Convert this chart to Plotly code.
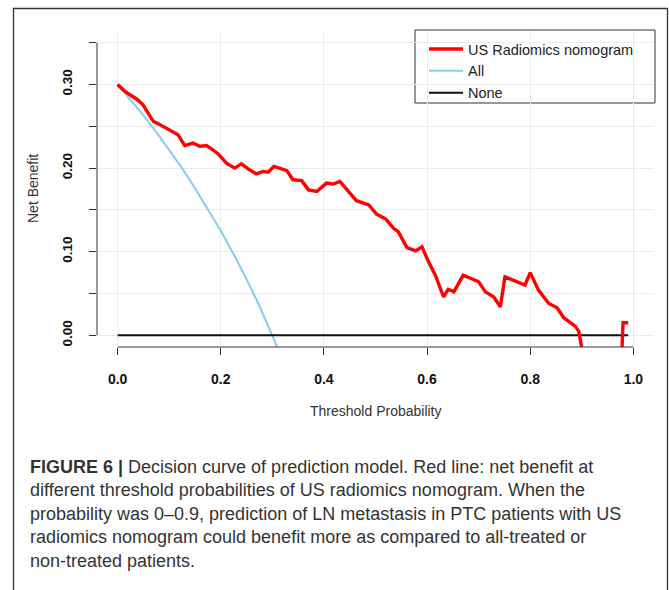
import plotly.graph_objects as go

# ---------------- data ----------------
model_x = [0.000, 0.012, 0.023, 0.036, 0.049, 0.060, 0.069, 0.082, 0.101, 0.117,
           0.130, 0.146, 0.159, 0.172, 0.182, 0.195, 0.211, 0.227, 0.240, 0.253,
           0.269, 0.282, 0.292, 0.303, 0.318, 0.328, 0.340, 0.357, 0.370, 0.386,
           0.405, 0.418, 0.431, 0.444, 0.463, 0.487, 0.502, 0.520, 0.535, 0.544,
           0.561, 0.578, 0.590, 0.602, 0.616, 0.632, 0.641, 0.652, 0.670, 0.700,
           0.713, 0.729, 0.742, 0.751, 0.790, 0.800, 0.816, 0.836, 0.852, 0.865,
           0.887, 0.894, 0.900, 0.905, 0.975, 0.980, 0.990]
model_y = [0.300, 0.293, 0.288, 0.283, 0.276, 0.265, 0.256, 0.252, 0.246, 0.240,
           0.227, 0.230, 0.226, 0.227, 0.223, 0.217, 0.206, 0.200, 0.205, 0.199,
           0.193, 0.196, 0.195, 0.202, 0.199, 0.197, 0.186, 0.185, 0.174, 0.172,
           0.182, 0.181, 0.184, 0.174, 0.161, 0.156, 0.145, 0.139, 0.128, 0.124,
           0.105, 0.101, 0.106, 0.089, 0.072, 0.046, 0.055, 0.052, 0.072, 0.064,
           0.052, 0.046, 0.034, 0.070, 0.060, 0.075, 0.054, 0.038, 0.033, 0.021,
           0.011, 0.005, -0.015, -0.060, -0.060, 0.015, 0.015]

all_x = [0.000, 0.025, 0.050, 0.075, 0.100, 0.125, 0.150, 0.175, 0.200, 0.225,
         0.250, 0.275, 0.300, 0.320]
all_y = [0.300, 0.282, 0.263, 0.243, 0.222, 0.200, 0.176, 0.151, 0.125, 0.097,
         0.067, 0.035, 0.000, -0.029]

none_x = [0.0, 0.99]
none_y = [0.0, 0.0]

series_names = ["US Radiomics nomogram", "All", "None"]

x_ticks = [0.0, 0.2, 0.4, 0.6, 0.8, 1.0]
x_tick_labels = ["0.0", "0.2", "0.4", "0.6", "0.8", "1.0"]
y_ticks = [0.00, 0.05, 0.10, 0.15, 0.20, 0.25, 0.30, 0.35]
y_tick_labels = ["0.00", "", "0.10", "", "0.20", "", "0.30", ""]

x_title = "Threshold Probability"
y_title = "Net Benefit"

caption_lines = [
    "<b>FIGURE 6 |</b> Decision curve of prediction model. Red line: net benefit at",
    "different threshold probabilities of US radiomics nomogram. When the",
    "probability was 0–0.9, prediction of LN metastasis in PTC patients with US",
    "radiomics nomogram could benefit more as compared to all-treated or",
    "non-treated patients.",
]

# ---------------- layout geometry ----------------
W, H = 669, 590
ML, MR, MT, MB = 97, 15, 31, 243
PW, PH = W - ML - MR, H - MT - MB


def px(xp):
    return (xp - ML) / PW


def py(yp):
    return (H - MB - yp) / PH


FONT = "Liberation Sans, Arial, sans-serif"

fig = go.Figure()
fig.add_trace(go.Scatter(x=all_x, y=all_y, mode="lines", name=series_names[1],
                         line=dict(color="#87CEEB", width=2), legendrank=2))
fig.add_trace(go.Scatter(x=none_x, y=none_y, mode="lines", name=series_names[2],
                         line=dict(color="#111111", width=2), legendrank=3))
fig.add_trace(go.Scatter(x=model_x, y=model_y, mode="lines", name=series_names[0],
                         line=dict(color="#FF0000", width=3.4), legendrank=1))

shapes = [
    # outer figure frame
    dict(type="rect", xref="paper", yref="paper", x0=px(13.5), x1=px(667.5),
         y0=py(620), y1=py(8.5), line=dict(color="#333333", width=1.3), layer="below"),
    # legend box
    dict(type="rect", xref="paper", yref="paper", x0=px(415), x1=px(655),
         y0=py(103), y1=py(30), fillcolor="white",
         line=dict(color="#333333", width=1), layer="between"),
    # R-style axis lines spanning only the tick range
    dict(type="line", xref="x", yref="paper", x0=x_ticks[0], x1=x_ticks[-1],
         y0=0, y1=0, line=dict(color="#333333", width=1)),
    dict(type="line", xref="paper", yref="y", x0=0, x1=0,
         y0=y_ticks[0], y1=y_ticks[-1], line=dict(color="#333333", width=1)),
]

annotations = [
    dict(text=y_title, xref="paper", yref="paper", x=px(33), y=py(189),
         xanchor="center", yanchor="middle", textangle=-90, showarrow=False,
         font=dict(family=FONT, size=14, color="#333333")),
    dict(text=x_title, xref="paper", yref="paper", x=px(375.5), y=py(411),
         xanchor="center", yanchor="middle", showarrow=False,
         font=dict(family=FONT, size=14, color="#333333")),
]
for i, line in enumerate(caption_lines):
    annotations.append(dict(text=line, xref="paper", yref="paper", x=px(28),
                            y=py(467 + 23.4 * i), xanchor="left", yanchor="middle",
                            align="left", showarrow=False,
                            font=dict(family=FONT, size=18, color="#333333")))

fig.update_layout(
    width=W, height=H,
    margin=dict(l=ML, r=MR, t=MT, b=MB, pad=0),
    paper_bgcolor="white", plot_bgcolor="white",
    font=dict(family=FONT, color="#111111"),
    showlegend=True,
    legend=dict(x=px(424), y=py(33), xanchor="left", yanchor="top",
                bgcolor="rgba(0,0,0,0)", borderwidth=0,
                font=dict(family=FONT, size=14.5, color="#222222"),
                tracegroupgap=0, itemwidth=34),
    shapes=shapes,
    annotations=annotations,
)
fig.update_xaxes(range=[-0.04, 1.04], tickmode="array", tickvals=x_ticks,
                 ticktext=x_tick_labels, ticks="outside", ticklen=7, tickwidth=1,
                 tickcolor="#333333", showline=False, zeroline=False,
                 showgrid=True, gridcolor="#EBEBEB", gridwidth=1,
                 tickfont=dict(family=FONT, size=14, color="#111111", weight="bold"),
                 ticklabelstandoff=12)
fig.update_yaxes(range=[-0.014, 0.364], tickmode="array", tickvals=y_ticks,
                 ticktext=y_tick_labels, ticks="outside", ticklen=7, tickwidth=1,
                 tickcolor="#333333", showline=False, zeroline=False,
                 showgrid=True, gridcolor="#EBEBEB", gridwidth=1, tickangle=-90,
                 tickfont=dict(family=FONT, size=13.5, color="#111111", weight="bold"),
                 ticklabelstandoff=12)

fig.write_html("out.html")
